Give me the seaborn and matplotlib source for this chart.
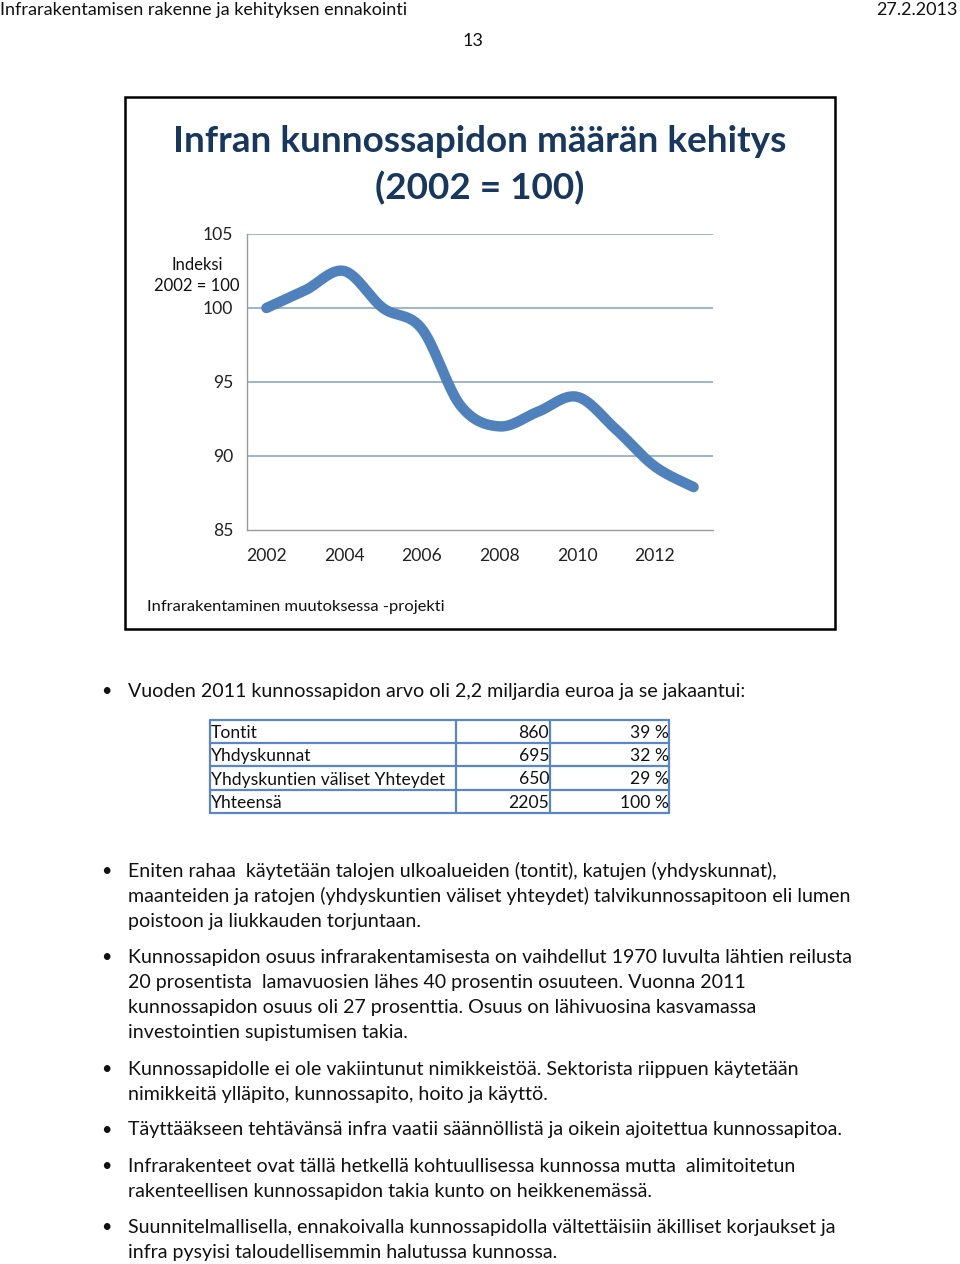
import numpy as np
import pandas as pd
import matplotlib
matplotlib.use('Agg')
import matplotlib.pyplot as plt
import seaborn as sns

# tiedot kuvasta
vuodet = [2002, 2003, 2004, 2005, 2006, 2007, 2008, 2009, 2010, 2011, 2012, 2013]
indeksi = [100.0, 101.2, 102.5, 100.0, 98.6, 93.4, 92.0, 93.0, 94.0, 91.8, 89.3, 87.9]
vuosi_labels = ['2002', '2004', '2006', '2008', '2010', '2012']
y_ticks = [85, 90, 95, 100, 105]

taulukko_nimet = ['Tontit', 'Yhdyskunnat', 'Yhdyskuntien väliset Yhteydet', 'Yhteensä']
taulukko_arvot = ['860', '695', '650', '2205']
taulukko_osuudet = ['39 %', '32 %', '29 %', '100 %']

bullets = [
    (690, ['Vuoden 2011 kunnossapidon arvo oli 2,2 miljardia euroa ja se jakaantui:']),
    (870, ['Eniten rahaa  käytetään talojen ulkoalueiden (tontit), katujen (yhdyskunnat),',
           'maanteiden ja ratojen (yhdyskuntien väliset yhteydet) talvikunnossapitoon eli lumen',
           'poistoon ja liukkauden torjuntaan.']),
    (956, ['Kunnossapidon osuus infrarakentamisesta on vaihdellut 1970 luvulta lähtien reilusta',
           '20 prosentista  lamavuosien lähes 40 prosentin osuuteen. Vuonna 2011',
           'kunnossapidon osuus oli 27 prosenttia. Osuus on lähivuosina kasvamassa',
           'investointien supistumisen takia.']),
    (1068, ['Kunnossapidolle ei ole vakiintunut nimikkeistöä. Sektorista riippuen käytetään',
            'nimikkeitä ylläpito, kunnossapito, hoito ja käyttö.']),
    (1129, ['Täyttääkseen tehtävänsä infra vaatii säännöllistä ja oikein ajoitettua kunnossapitoa.']),
    (1165, ['Infrarakenteet ovat tällä hetkellä kohtuullisessa kunnossa mutta  alimitoitetun',
            'rakenteellisen kunnossapidon takia kunto on heikkenemässä.']),
    (1226, ['Suunnitelmallisella, ennakoivalla kunnossapidolla vältettäisiin äkilliset korjaukset ja',
            'infra pysyisi taloudellisemmin halutussa kunnossa.']),
]

sns.set_style('white')
plt.rcParams['font.family'] = ['Lato', 'DejaVu Sans']

W, H = 960, 1264
fig = plt.figure(figsize=(W / 100, H / 100), dpi=100)

# kaavion akselit (pikseleinä)
L, R, T, B = 247, 713, 234, 530
ax = fig.add_axes([L / W, 1 - B / H, (R - L) / W, (B - T) / H])

# excel-tyylinen pehmennetty viiva (bezier kontrollipisteet datasta)
x = np.arange(len(vuodet)) + 0.5
y = np.array(indeksi)
px = np.concatenate([[x[0]], x, [x[-1]]])
py = np.concatenate([[y[0]], y, [y[-1]]])
xs, ys = [], []
t = np.linspace(0, 1, 30)
for i in range(len(x) - 1):
    p0 = np.array([x[i], y[i]])
    p3 = np.array([x[i + 1], y[i + 1]])
    p1 = p0 + (np.array([px[i + 2], py[i + 2]]) - np.array([px[i], py[i]])) / 6
    p2 = p3 - (np.array([px[i + 3], py[i + 3]]) - np.array([px[i + 1], py[i + 1]])) / 6
    b = ((1 - t) ** 3)[:, None] * p0 + (3 * (1 - t) ** 2 * t)[:, None] * p1 \
        + (3 * (1 - t) * t ** 2)[:, None] * p2 + (t ** 3)[:, None] * p3
    xs.extend(b[:, 0])
    ys.extend(b[:, 1])
df = pd.DataFrame({'x': xs, 'y': ys})

for v in y_ticks[1:]:
    ax.axhline(v, color='#8EA8C3', lw=1.2, zorder=1)
sns.lineplot(data=df, x='x', y='y', sort=False, ax=ax, color='#4F81BD', lw=7.5,
             solid_capstyle='round', zorder=3)

ax.set_xlim(0, len(vuodet))
ax.set_ylim(85, 105)
ax.set_yticks(y_ticks)
ax.set_yticklabels([str(v) for v in y_ticks])
ax.set_xticks(np.arange(len(vuodet) + 1))
ax.set_xticklabels([])
ax.set_xticks(np.arange(0, len(vuodet), 2) + 0.5, minor=True)
ax.set_xticklabels(vuosi_labels, minor=True)
ax.tick_params(axis='x', which='major', direction='out', length=4, width=1, color='#9A9A9A')
ax.tick_params(axis='x', which='minor', length=0, pad=13, labelsize=12.6, labelcolor='#222222')
ax.tick_params(axis='y', length=0, pad=10, labelsize=12.6, labelcolor='#222222')
ax.set_xlabel('')
ax.set_ylabel('')
for s in ['top', 'right']:
    ax.spines[s].set_visible(False)
ax.spines['left'].set_color('#9A9A9A')
ax.spines['bottom'].set_color('#9A9A9A')
ax.spines['left'].set_linewidth(1)
ax.spines['bottom'].set_linewidth(1)
ax.patch.set_alpha(0)

# päällys-akseli pikselikoordinaateilla tekstejä varten
ov = fig.add_axes([0, 0, 1, 1], zorder=-1)
ov.set_xlim(0, W)
ov.set_ylim(H, 0)
ov.axis('off')

ov.text(0, 10, 'Infrarakentamisen rakenne ja kehityksen ennakointi', fontsize=13,
        va='center', ha='left', color='#111111')
ov.text(958, 10, '27.2.2013', fontsize=13, va='center', ha='right', color='#111111')
ov.text(473, 41, '13', fontsize=13, va='center', ha='center', color='#111111')

# kaavion kehys
ov.add_patch(plt.Rectangle((125, 97), 710, 532, fill=False, ec='black', lw=1.8))
ov.text(480, 141, 'Infran kunnossapidon määrän kehitys', fontsize=26.6, fontweight='bold',
        color='#17375E', ha='center', va='center')
ov.text(480, 188, '(2002 = 100)', fontsize=26.6, fontweight='bold',
        color='#17375E', ha='center', va='center')
ov.text(197, 265, 'Indeksi', fontsize=12, ha='center', va='center', color='#111111')
ov.text(197, 286, '2002 = 100', fontsize=12, ha='center', va='center', color='#111111')
ov.text(147, 607, 'Infrarakentaminen muutoksessa -projekti', fontsize=11.85, ha='left',
        va='center', color='#111111')

# luettelo
for y0, lines in bullets:
    ov.text(106, y0 + 1, '•', fontsize=13, ha='center', va='center', color='#111111')
    for j, line in enumerate(lines):
        ov.text(128, y0 + 1 + j * 25.3, line, fontsize=14.1, ha='left', va='center', color='#111111')

# taulukko
cols = [210, 456, 550, 669]
rows = [720, 743, 766, 790, 813]
for cx in cols:
    ov.plot([cx, cx], [rows[0], rows[-1]], color='#5B86C5', lw=1.6)
for ry in rows:
    ov.plot([cols[0], cols[-1]], [ry, ry], color='#5B86C5', lw=1.6)
for i in range(len(taulukko_nimet)):
    yc = (rows[i] + rows[i + 1]) / 2 + 1.5
    ov.text(cols[0] + 1, yc, taulukko_nimet[i], fontsize=12.6, ha='left', va='center', color='#111111')
    ov.text(cols[2] - 1, yc, taulukko_arvot[i], fontsize=12.6, ha='right', va='center', color='#111111')
    ov.text(cols[3], yc, taulukko_osuudet[i], fontsize=12.6, ha='right', va='center', color='#111111')

fig.savefig('out.png', dpi=100, facecolor='white')
